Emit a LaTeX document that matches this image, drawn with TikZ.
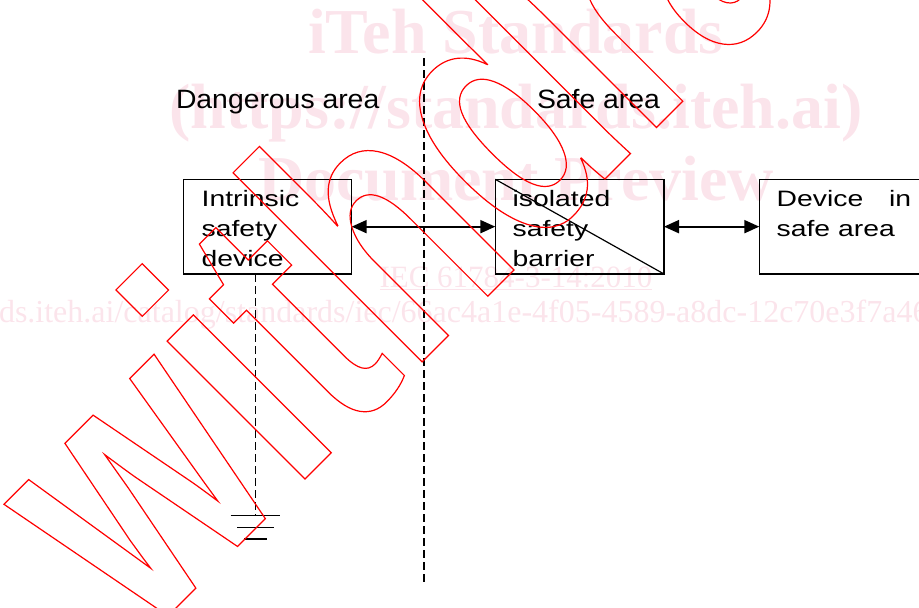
\documentclass[tikz,border=0pt]{standalone}
\usepackage{fontspec}
\setmainfont{Liberation Sans}[FakeStretch=1.27]
\newfontfamily\areafont{Liberation Sans}[FakeStretch=1.07]
\newfontfamily\wmserif{Liberation Serif}
\newfontfamily\wmoutline{Liberation Sans Bold}[FakeStretch=0.735]
\usetikzlibrary{arrows.meta}
\definecolor{wmpink}{RGB}{251,228,235}
\definecolor{wmred}{RGB}{255,0,0}
\newcommand{\outlinetxt}[1]{\special{pdf:literal direct 1 Tr 1.2 w}#1\special{pdf:literal direct 0 Tr}}
\tikzset{
  lbl/.style={inner sep=0pt, outer sep=0pt, anchor=base west, font=\fontsize{22.3}{26}\selectfont},
  arealbl/.style={inner sep=0pt, outer sep=0pt, anchor=base west, font=\areafont\fontsize{26.5}{30}\selectfont},
  box/.style={draw, line width=1.2pt, inner sep=0pt, outer sep=0pt, anchor=north west, minimum height=94.7pt},
  conn/.style={line width=2pt, {Triangle[length=15pt,width=13pt]}-{Triangle[length=15pt,width=13pt]}},
  dashline/.style={line width=1.3pt, dash pattern=on 8pt off 4pt},
  gnd/.style={line width=1.5pt},
  wm/.style={text=wmpink, inner sep=0pt, outer sep=0pt, anchor=base},
}
\begin{document}
\begin{tikzpicture}[x=1pt,y=-1pt]
\useasboundingbox (0,0) rectangle (919,608);
\clip (0,0) rectangle (919,608);
% pink watermark texts
\node[wm, font=\wmserif\bfseries\fontsize{64}{64}\selectfont] (wm1) at (516,53) {iTeh Standards};
\node[wm, font=\wmserif\bfseries\fontsize{64}{64}\selectfont] (wm2) at (516,128) {(https://standards.iteh.ai)};
\node[wm, font=\wmserif\bfseries\fontsize{64}{64}\selectfont] (wm3) at (516,200) {Document Preview};
\node[wm, font=\wmserif\fontsize{31}{31}\selectfont] (wm4) at (516,287) {\underline{IEC 61784-3-14:2010}};
\node[wm, anchor=base west, font=\wmserif\fontsize{32}{32}\selectfont] (wm5) at (-1,322) {ds.iteh.ai/catalog/standards/iec/66ac4a1e-4f05-4589-a8dc-12c70e3f7a46};
% area labels
\node[arealbl] (dang) at (176,108.3) {Dangerous area};
\node[arealbl] (safe) at (537,108.3) {Safe area};
% boxes
\node[box, minimum width=168.4pt] (b1) at (183.3,179.3) {};
\node[box, minimum width=168.7pt] (b2) at (495.3,179.3) {};
\node[box, minimum width=200pt] (b3) at (759.3,179.3) {};
\draw[line width=1.2pt] (b2.north west) -- (b2.south east);
% box texts
\node[lbl] (t11) at (201.7,206) {Intrinsic};
\node[lbl] (t12) at (201.7,236) {safety};
\node[lbl] (t13) at (201.7,266) {device};
\node[lbl] (t21) at (512.7,206) {isolated};
\node[lbl] (t22) at (512.7,236) {safety};
\node[lbl] (t23) at (512.7,266) {barrier};
\node[lbl] (t31) at (776.7,206) {Device \hspace{18pt}in};
\node[lbl] (t32) at (776.7,236) {safe area};
% connectors
\draw[conn] (b1) -- (b2);
\draw[conn] (b2) -- (b3);
% boundary line
\coordinate (dtop) at (424,58);
\coordinate (dbot) at (424,584);
\draw[dashline] (dtop) -- (dbot);
% earth
\coordinate (g) at (255.5,515.7);
\draw[dashline] (b1.south -| g) -- (g);
\draw[gnd] (230.7,515.7) -- (280.3,515.7);
\draw[gnd] (237,527.3) -- (273.5,527.3);
\draw[gnd] (244,539) -- (267,539);
% withdrawn watermark
\node[text=wmred, inner sep=0pt, outer sep=0pt, anchor=base west, rotate=45,
      font=\wmoutline\fontsize{369}{369}\selectfont] (wdr) at (142.4,641.6) {\outlinetxt{withdrawn}};
\end{tikzpicture}
\end{document}
